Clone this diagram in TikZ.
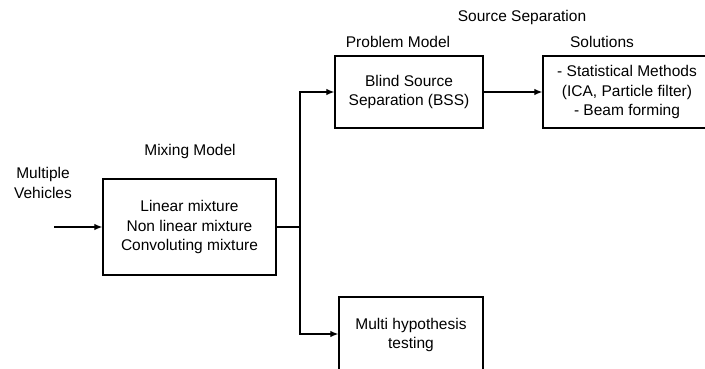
\documentclass[tikz,border=0pt]{standalone}
\usepackage{fontspec}
\setmainfont{Liberation Sans}
\usetikzlibrary{arrows.meta,positioning,calc}

\tikzset{
  blockbox/.style={draw, line width=1.3pt, align=center, inner sep=0pt},
  caption/.style={align=center, inner sep=0pt},
  flow/.style={line width=1.2pt, -{Latex[length=8pt,width=6.5pt]}}
}

\begin{document}
\begin{tikzpicture}[x=1pt,y=-1pt,font=\fontsize{15.5}{19.5}\selectfont]

  \clip (0,0) rectangle (705,369);

  % draw the boxes
  \node[blockbox, minimum width=173, minimum height=96] (mix) at (189.5,227)
    {Linear mixture\\Non linear mixture\\Convoluting mixture};
  \node[blockbox, minimum width=148, minimum height=72] (bss) at (409,92)
    {Blind Source\\Separation (BSS)};
  \node[blockbox, minimum width=168, minimum height=72] (sol) at (627,92)
    {- Statistical Methods\\(ICA, Particle filter)\\- Beam forming};
  \node[blockbox, minimum width=144, minimum height=76] (mht) at (411,335)
    {Multi hypothesis\\testing};

  % the titles above them
  \node[caption] (vehicles) at (43,183) {Multiple\\Vehicles};
  \node[caption] (mixtitle) at (190,151) {Mixing Model};
  \node[caption] (bsstitle) at (398,42) {Problem Model};
  \node[caption] (soltitle) at (602,42) {Solutions};
  \node[caption] (septitle) at (522,17) {Source Separation};

  % draw the connectors
  \coordinate (input) at (54,227);
  \coordinate (split) at (300,227);
  \draw[flow] (input) -- (mix.west);
  \draw[line width=1.2pt] (mix.east) -- (split);
  \draw[flow] (split) |- (bss.west);
  \draw[flow] (split) |- ($(mht.west)+(0,-1)$);
  \draw[flow] (bss.east) -- (sol.west);

\end{tikzpicture}
\end{document}
